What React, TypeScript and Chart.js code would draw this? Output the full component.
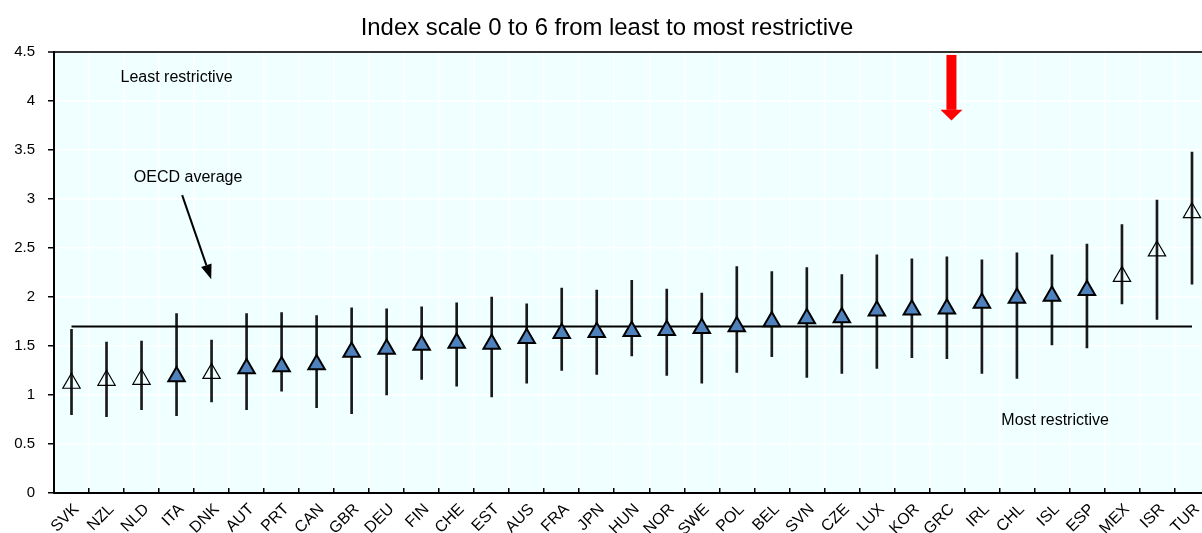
import React, { useEffect, useRef } from 'react';
import { Chart, registerables } from 'chart.js';

Chart.register(...registerables);

const FONT = "'Liberation Sans', Arial, Helvetica, sans-serif";

const countries = [
  'SVK', 'NZL', 'NLD', 'ITA', 'DNK', 'AUT', 'PRT', 'CAN', 'GBR', 'DEU', 'FIN',
  'CHE', 'EST', 'AUS', 'FRA', 'JPN', 'HUN', 'NOR', 'SWE', 'POL', 'BEL', 'SVN',
  'CZE', 'LUX', 'KOR', 'GRC', 'IRL', 'CHL', 'ISL', 'ESP', 'MEX', 'ISR', 'TUR',
];

const scores = [
  1.12, 1.15, 1.16, 1.19, 1.22, 1.27, 1.29, 1.31, 1.44, 1.47, 1.51,
  1.53, 1.52, 1.58, 1.63, 1.64, 1.65, 1.66, 1.68, 1.70, 1.75, 1.78,
  1.79, 1.86, 1.87, 1.88, 1.94, 1.99, 2.01, 2.07, 2.21, 2.47, 2.86,
];

const lowBounds = [
  0.80, 0.78, 0.85, 0.79, 0.93, 0.85, 1.04, 0.87, 0.81, 1.00, 1.16,
  1.09, 0.98, 1.12, 1.25, 1.21, 1.40, 1.20, 1.12, 1.23, 1.39, 1.18,
  1.22, 1.27, 1.38, 1.37, 1.22, 1.17, 1.51, 1.48, 1.93, 1.77, 2.13,
];

const highBounds = [
  1.67, 1.54, 1.55, 1.83, 1.56, 1.83, 1.84, 1.81, 1.89, 1.88, 1.90,
  1.94, 2.00, 1.93, 2.09, 2.07, 2.17, 2.08, 2.04, 2.31, 2.26, 2.30,
  2.23, 2.43, 2.39, 2.41, 2.38, 2.45, 2.43, 2.54, 2.74, 2.99, 3.48,
];

const hollowCountries = ['SVK', 'NZL', 'NLD', 'DNK', 'MEX', 'ISR', 'TUR'];

const oecdAverage = 1.7;

const yMin = 0;
const yMax = 4.5;
const yStep = 0.5;

const titleText = 'Index scale 0 to 6 from least to most restrictive';
const leastLabel = 'Least restrictive';
const oecdLabel = 'OECD average';
const mostLabel = 'Most restrictive';
const highlightCountry = 'GRC';

const annotationPlugin = {
  id: 'oecdAnnotations',
  beforeDraw(chart: any) {
    const { ctx, chartArea } = chart;
    ctx.save();
    ctx.fillStyle = '#F0FFFF';
    ctx.fillRect(chartArea.left, chartArea.top, chartArea.right - chartArea.left, chartArea.bottom - chartArea.top);
    ctx.restore();
  },
  afterDatasetsDraw(chart: any) {
    const { ctx } = chart;
    const xs = chart.scales.x;
    const ys = chart.scales.y;
    const px = (v: number) => xs.getPixelForValue(v);
    const py = (v: number) => ys.getPixelForValue(v);
    ctx.save();

    // title
    ctx.fillStyle = '#000';
    ctx.font = `23.9px ${FONT}`;
    ctx.textAlign = 'center';
    ctx.textBaseline = 'alphabetic';
    ctx.fillText(titleText, 607, 35);

    // annotations
    ctx.font = `16px ${FONT}`;
    ctx.fillText(leastLabel, px(3.0), py(4.194));
    ctx.fillText(oecdLabel, px(3.33), py(3.173));
    ctx.fillText(mostLabel, px(28.09), py(0.694));

    // black arrow to OECD average
    const x0 = px(3.16), y0 = py(3.04);
    const x1 = px(3.99), y1 = py(2.18);
    const ang = Math.atan2(y1 - y0, x1 - x0);
    const headLen = 15, headW = 5.5;
    const bx = x1 - Math.cos(ang) * headLen;
    const by = y1 - Math.sin(ang) * headLen;
    ctx.strokeStyle = '#000';
    ctx.lineWidth = 2;
    ctx.beginPath();
    ctx.moveTo(x0, y0);
    ctx.lineTo(bx, by);
    ctx.stroke();
    ctx.fillStyle = '#000';
    ctx.beginPath();
    ctx.moveTo(x1, y1);
    ctx.lineTo(bx + Math.sin(ang) * headW, by - Math.cos(ang) * headW);
    ctx.lineTo(bx - Math.sin(ang) * headW, by + Math.cos(ang) * headW);
    ctx.closePath();
    ctx.fill();

    // red arrow above highlighted country
    const idx = countries.indexOf(highlightCountry);
    const rx = px(idx + 0.13);
    const rTop = py(4.47), rHead = py(3.91), rTip = py(3.8);
    ctx.fillStyle = '#FF0000';
    ctx.fillRect(rx - 5, rTop, 10, rHead - rTop);
    ctx.beginPath();
    ctx.moveTo(rx - 11, rHead);
    ctx.lineTo(rx + 11, rHead);
    ctx.lineTo(rx, rTip);
    ctx.closePath();
    ctx.fill();

    ctx.restore();
  },
};

export default function App() {
  const ref = useRef<HTMLCanvasElement | null>(null);

  useEffect(() => {
    if (!ref.current) return;
    const filled = scores.map((v, i) => (hollowCountries.includes(countries[i]) ? null : v));
    const hollow = scores.map((v, i) => (hollowCountries.includes(countries[i]) ? v : null));
    const ranges = countries.map((_, i) => [lowBounds[i], highBounds[i]]);
    const avg = countries.map(() => oecdAverage);

    const chart = new Chart(ref.current, {
      type: 'bar',
      data: {
        labels: countries,
        datasets: [
          {
            type: 'line',
            label: 'filled',
            data: filled,
            showLine: false,
            pointStyle: 'triangle',
            pointRadius: 9.5,
            pointBackgroundColor: '#4F81BD',
            pointBorderColor: '#000',
            pointBorderWidth: 2,
            order: 0,
          } as any,
          {
            type: 'line',
            label: 'hollow',
            data: hollow,
            showLine: false,
            pointStyle: 'triangle',
            pointRadius: 10,
            pointBackgroundColor: 'rgba(255,255,255,0)',
            pointBorderColor: '#000',
            pointBorderWidth: 1.2,
            order: 1,
          } as any,
          {
            type: 'line',
            label: 'OECD average',
            data: avg,
            borderColor: '#000',
            borderWidth: 2,
            pointRadius: 0,
            order: 2,
          } as any,
          {
            type: 'bar',
            label: 'range',
            data: ranges,
            backgroundColor: '#1a1a1a',
            borderWidth: 0,
            barThickness: 2,
            order: 3,
          } as any,
        ],
      },
      options: {
        responsive: false,
        animation: false,
        events: [],
        layout: { padding: { top: 52, right: 3, left: 0, bottom: 0 } },
        plugins: {
          legend: { display: false },
          tooltip: { enabled: false },
          title: { display: false },
        },
        scales: {
          x: {
            type: 'category',
            offset: true,
            grid: {
              offset: true,
              color: '#ffffff',
              lineWidth: 1.5,
              tickColor: '#000',
              tickLength: -5,
              tickWidth: 1.5,
            },
            border: { color: '#000', width: 2 },
            ticks: {
              autoSkip: false,
              minRotation: 45,
              maxRotation: 45,
              padding: 12,
              labelOffset: 5,
              color: '#000',
              font: { family: FONT, size: 16 },
            },
            afterFit: (s: any) => {
              s.height = 40;
              s.paddingLeft = 0;
              s.paddingRight = 0;
            },
          },
          y: {
            min: yMin,
            max: yMax,
            ticks: {
              stepSize: yStep,
              padding: 13,
              color: '#000',
              font: { family: FONT, size: 15 },
              callback: (v: any) => `${Number(v)}`,
            },
            grid: {
              color: (c: any) => (c.tick && c.tick.value === yMax ? '#333' : '#ffffff'),
              lineWidth: (c: any) => (c.tick && c.tick.value === yMax ? 2 : 1.5),
              tickColor: '#000',
              tickLength: 6,
              tickWidth: 1.5,
            },
            border: { color: '#000', width: 2 },
            afterFit: (s: any) => {
              s.width = 54;
            },
          },
        },
      } as any,
      plugins: [annotationPlugin],
    });
    return () => chart.destroy();
  }, []);

  return (
    <div
      style={{
        position: 'fixed',
        left: 0,
        top: 0,
        width: 1202,
        height: 533,
        overflow: 'hidden',
        background: '#ffffff',
      }}
    >
      <canvas ref={ref} width={1221} height={533} style={{ display: 'block', width: 1221, height: 533 }} />
    </div>
  );
}
